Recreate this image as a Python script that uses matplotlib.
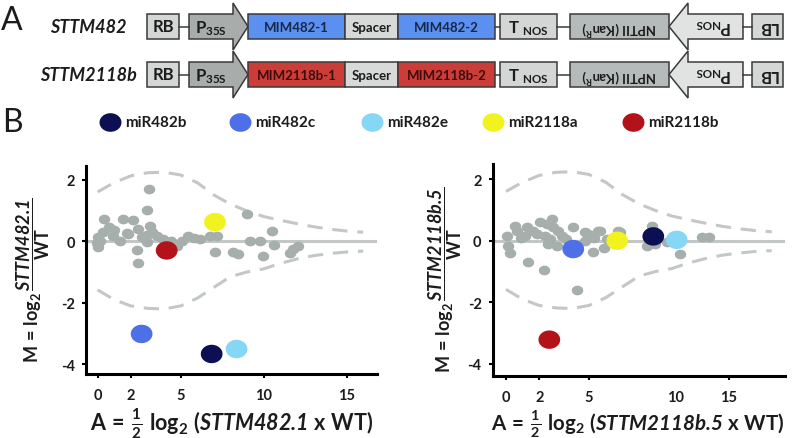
import matplotlib
matplotlib.use("Agg")
import matplotlib.pyplot as plt
import numpy as np
from matplotlib.patches import Rectangle, Polygon
from matplotlib.path import Path
from matplotlib.markers import MarkerStyle

plt.rcParams["font.family"] = "Lato"
plt.rcParams["mathtext.fontset"] = "custom"
plt.rcParams["mathtext.rm"] = "Lato:bold"
plt.rcParams["mathtext.it"] = "Lato:italic:bold"
plt.rcParams["mathtext.bf"] = "Lato:bold"
plt.rcParams["mathtext.sf"] = "Lato:italic:bold"   # used for italic sample names (digits included)

# miRNAs highlighted in both MA plots
mirnas = ["miR482b", "miR482c", "miR482e", "miR2118a", "miR2118b"]
mir_colors = ["#0c0f52", "#4d6fe8", "#86d6f6", "#f2f21e", "#b3121a"]

# STTM482.1 vs WT
a1_mir = [6.87, 2.65, 8.37, 7.07, 4.16]
m1_mir = [-3.66, -3.01, -3.50, 0.62, -0.30]
a1_bg = [0.40, 1.50, 2.15, 0.70, 3.15, 3.10, 2.95, 0.00, -0.05, 0.00, 0.94, 1.85, 1.34, 2.45, 2.65,
         3.00, 3.55, 2.35, 2.45, 2.95, 3.95, 4.76, 5.06, 5.46, 6.16, 6.77, 7.17, 7.07, 8.17, 8.47,
         8.98, 9.17, 9.78, 9.98, 10.48, 10.62, 11.78, 12.08, 11.58, 1.75, 4.40, 5.80, 0.30, 1.00,
         3.30, 0.14, 4.30]
m1_bg = [0.72, 0.72, 0.70, 0.45, 0.50, 1.68, 1.02, 0.15, -0.05, -0.20, 0.18, 0.24, 0.02, 0.40, 0.13,
         0.20, 0.18, -0.30, -0.70, -0.03, 0.07, -0.14, 0.02, 0.18, 0.07, 0.18, 0.18, -0.36, -0.36, -0.41,
         0.89, -0.01, -0.01, -0.47, 0.34, -0.12, -0.25, -0.16, -0.38, 0.27, 0.00, 0.10, 0.30, 0.35,
         0.30, 0.02, -0.10]

# STTM2118b.5 vs WT
a2_mir = [8.87, 4.05, 10.28, 6.70, 2.61]
m2_mir = [0.14, -0.27, 0.03, 0.00, -3.21]
a2_bg = [0.04, 0.14, 0.24, 0.54, 0.64, 1.25, 1.14, 1.85, 2.05, 2.45, 2.75, 2.85, 3.15, 2.35, 2.65,
         2.55, 3.05, 3.35, 4.05, 4.76, 4.96, 5.56, 5.66, 4.76, 5.26, 5.90, 6.77, 1.35, 2.30, 4.26,
         6.87, 8.78, 8.48, 9.68, 10.48, 11.79, 12.20, 0.90, 1.60, 3.60, 5.30, 6.10, 9.00]
m2_bg = [0.16, -0.16, -0.40, 0.49, 0.32, 0.45, 0.16, 0.22, 0.60, 0.54, 0.70, 0.43, 0.32, 0.16, 0.06,
         -0.11, -0.18, 0.16, 0.43, 0.27, 0.22, 0.32, 0.32, 0.00, -0.35, -0.22, 0.32, -0.70, -0.96, -1.61,
         0.28, 0.49, -0.18, -0.05, -0.43, 0.11, 0.11, 0.10, 0.30, 0.05, 0.10, 0.05, -0.10]

# dashed significance envelope
env_a = [0, 1, 2, 3, 4, 5, 6, 7, 8, 9, 10, 11, 12, 13, 14, 15, 16]
env_up = [1.60, 1.90, 2.12, 2.22, 2.24, 2.15, 1.90, 1.50, 1.20, 0.98, 0.80, 0.68, 0.57, 0.47, 0.39, 0.33, 0.29]
env_lo = [-1.58, -1.90, -2.10, -2.18, -2.20, -2.10, -1.85, -1.50, -1.15, -1.00, -0.90, -0.72, -0.58,
          -0.47, -0.40, -0.35, -0.32]

GRAY = "#a7afad"
LINE = "#c3c8c7"
EDGE = "#3a3a3a"
TXT = "#1c1c1c"

t = np.linspace(0, 2 * np.pi, 60)
ell = MarkerStyle(Path(np.column_stack([1.18 * np.cos(t), np.sin(t)]), closed=True))

fig = plt.figure(figsize=(7.96, 4.39), dpi=100)

# overlay in pixel coordinates for panel A and the legend
ovl = fig.add_axes([0, 0, 1, 1])
ovl.set_xlim(0, 796)
ovl.set_ylim(439, 0)
ovl.axis("off")

ovl.text(12, 21, "A", fontsize=23, ha="center", va="center", color=TXT)
ovl.text(12, 123, "B", fontsize=23, ha="center", va="center", color=TXT)


def box(x0, x1, yc, fc, h=12.5):
    ovl.add_patch(Rectangle((x0, yc - h), x1 - x0, 2 * h, fc=fc, ec=EDGE, lw=1.1))


def link(x0, x1, yc):
    ovl.plot([x0, x1], [yc, yc], color=EDGE, lw=1.1)


def arrow(xs, xb, xt, yc, fc):
    pts = [(xs, yc - 12.5), (xb, yc - 12.5), (xb, yc - 23.5), (xt, yc),
           (xb, yc + 23.5), (xb, yc + 12.5), (xs, yc + 12.5)]
    ovl.add_patch(Polygon(pts, closed=True, fc=fc, ec=EDGE, lw=1.1))


constructs = ["STTM482", "STTM2118b"]
mim_fill = ["#5b8ff0", "#cc3d38"]
mim_text = ["#16284a", "#3d0b0b"]
mim_labels = [("MIM482-1", "MIM482-2"), ("MIM2118b-1", "MIM2118b-2")]
row_y = [27.5, 75.5]

for name, fc, tc, (l1, l2), y in zip(constructs, mim_fill, mim_text, mim_labels, row_y):
    ovl.text(88, y, name, fontsize=13, fontweight="bold", fontstyle="italic",
             ha="center", va="center", color=TXT)
    box(147, 179, y, "#d4d7d6")
    ovl.text(163, y, "RB", fontsize=12, fontweight="bold", ha="center", va="center", color=TXT)
    link(179, 189, y)
    arrow(189, 233, 248, y, "#a8adac")
    ovl.text(211, y + 1, r"$\mathrm{P}_{\mathrm{35S}}$", fontsize=12, ha="center", va="center", color=TXT)
    box(248, 345, y, fc)
    ovl.text(296.5, y, l1, fontsize=9.5, fontweight="bold", ha="center", va="center", color=tc)
    box(345, 398, y, "#d8dad9")
    ovl.text(371.5, y, "Spacer", fontsize=9.5, fontweight="bold", ha="center", va="center", color=TXT)
    box(398, 495, y, fc)
    ovl.text(446.5, y, l2, fontsize=9.5, fontweight="bold", ha="center", va="center", color=tc)
    link(495, 500, y)
    box(500, 557, y, "#d3d6d5")
    ovl.text(528, y + 1, r"$\mathrm{T}\ _{\mathrm{NOS}}$", fontsize=12, ha="center", va="center", color=TXT)
    link(557, 570, y)
    box(570, 669, y, "#b5baba")
    ovl.text(619, y, r"NPTII (Kan$^{\mathrm{R}}$)", fontsize=9.5, fontweight="bold", rotation=180,
             ha="center", va="center", color=TXT)
    arrow(743, 688, 669, y, "#e1e3e3")
    ovl.text(714, y - 1, r"$\mathrm{P}_{\mathrm{NOS}}$", fontsize=12, rotation=180,
             ha="center", va="center", color=TXT)
    link(743, 752, y)
    box(752, 783, y, "#d4d7d6")
    ovl.text(767.5, y, "LB", fontsize=12, fontweight="bold", rotation=180,
             ha="center", va="center", color=TXT)

# legend row
leg_x = [110, 240, 372, 493, 633]
for x, c, lab in zip(leg_x, mir_colors, mirnas):
    ovl.scatter([x], [123], marker=ell, s=250, color=c, linewidths=0)
    ovl.text(x + 15, 123, lab, fontsize=11, fontweight="bold", ha="left", va="center", color=TXT)


def ma_panel(rect, xlim, ylim, a_bg, m_bg, a_mir, m_mir):
    ax = fig.add_axes(rect)
    ax.set_xlim(*xlim)
    ax.set_ylim(*ylim)
    ax.axhline(0, color=LINE, lw=2.2, zorder=1)
    ax.plot(env_a, env_up, color=LINE, lw=2.2, dashes=(5, 3.2), zorder=1)
    ax.plot(env_a, env_lo, color=LINE, lw=2.2, dashes=(5, 3.2), zorder=1)
    ax.scatter(a_bg, m_bg, marker=ell, s=68, color=GRAY, linewidths=0, zorder=2)
    ax.scatter(a_mir, m_mir, marker=ell, s=245, color=mir_colors, linewidths=0, zorder=3)
    for s in ("top", "right"):
        ax.spines[s].set_visible(False)
    for s in ("left", "bottom"):
        ax.spines[s].set_linewidth(2.2)
        ax.spines[s].set_color("black")
    ax.set_yticks([2, 0, -2, -4])
    ax.set_yticklabels(["2", "0", "-2", "-4"])
    ax.tick_params(direction="out", length=3, width=1.5, colors="black", labelcolor=TXT,
                   labelsize=10.5, pad=5)
    ax.tick_params(axis="x", pad=7)
    for lab in ax.get_yticklabels():
        lab.set_fontweight("bold")
    return ax


ax1 = ma_panel([86 / 796, 64 / 439, 291 / 796, 208 / 439], (-0.7, 16.83), (-4.31, 2.44),
               a1_bg, m1_bg, a1_mir, m1_mir)
ax1.set_xticks([0, 2, 5, 10, 15])
ax1.set_xticklabels(["0", "2", "5", "10", "15"], fontweight="bold")

ax2 = ma_panel([492.7 / 796, 62.3 / 439, 292.3 / 796, 211.7 / 439], (-0.8, 16.8), (-4.38, 2.49),
               a2_bg, m2_bg, a2_mir, m2_mir)
# the original figure has its last two x labels shifted: "10" without a tick, "15" at ~13.4
ax2.set_xticks([0, 2, 5, 13.4])
ax2.set_xticklabels(["0", "2", "5", "15"], fontweight="bold")
ax2.set_xticks([10.2], minor=True)
ax2.set_xticklabels(["10"], minor=True, fontweight="bold")
ax2.tick_params(axis="x", which="minor", length=0, pad=10, labelsize=10.5, labelcolor=TXT)

for ax, sample, yl_x, yl_y, xl_x, xl_y, xl_fs in [
        (ax1, r"STTM482.1", -0.182, 0.455, 0.50, -0.232, 15.5),
        (ax2, r"STTM2118b.\!5", -0.162, 0.46, 0.496, -0.226, 14.8)]:
    ax.text(yl_x, yl_y, r"$\mathrm{M\,=\,log_2}\,\dfrac{\mathsf{%s}}{\mathrm{WT}}$" % sample,
            transform=ax.transAxes, rotation=90, ha="center", va="center", fontsize=13, color=TXT)
    ax.text(xl_x, xl_y, r"$\mathrm{A\,=}\;\frac{1}{2}\ \mathrm{log_2}\ (\mathsf{%s}\ \mathrm{x\ WT})$" % sample,
            transform=ax.transAxes, ha="center", va="center", fontsize=xl_fs, color=TXT)

fig.savefig("out.png", dpi=100)
